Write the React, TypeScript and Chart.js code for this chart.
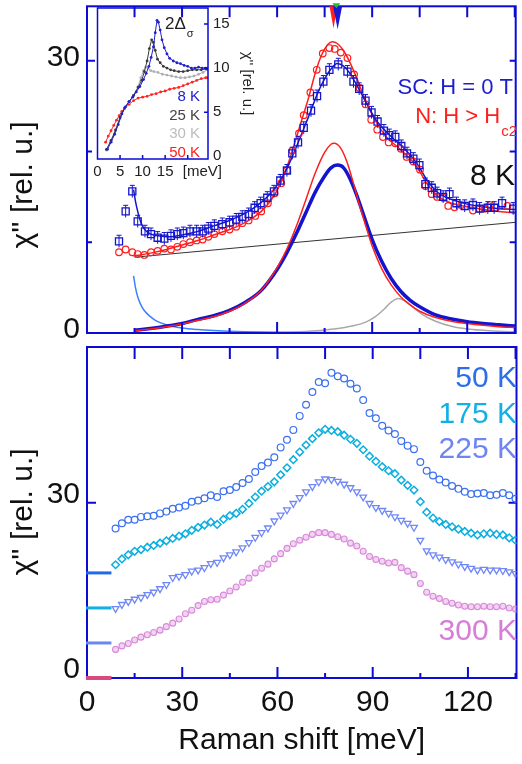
import React, { useEffect, useRef } from "react";
import { Chart, registerables } from "chart.js";
Chart.register(...registerables);

const FONT = "'Liberation Sans', Arial, Helvetica, sans-serif";
const AXIS_BLUE = "#0b0bd4";
const SC_BLUE = "#1414cc";
const N_RED = "#ff1e1e";

// ---------------- top panel (8 K) ----------------
const SC_X = [10.1, 12.2, 14.3, 16.0, 18.3, 20.2, 22.3, 24.4, 26.5, 28.5, 30.4, 32.5, 34.6, 36.5, 38.3, 40.2, 42.7, 45.0, 47.1, 49.0, 51.0, 52.9, 54.8, 56.9, 59.0, 61.0, 63.1, 64.8, 66.6, 68.4, 70.7, 72.6, 74.6, 76.5, 79.3, 82.2, 84.1, 85.9, 87.9, 89.8, 91.7, 93.7, 95.4, 97.3, 99.2, 101.0, 103.0, 104.9, 106.8, 108.8, 110.5, 112.4, 114.4, 116.6, 119.2, 121.8, 123.9, 126.5, 128.5, 131.0, 134.5];
const SC_Y = [10.1, 13.4, 15.6, 12.3, 11.2, 10.9, 10.5, 10.4, 10.7, 10.9, 11.0, 11.2, 11.2, 11.2, 11.5, 11.8, 12.0, 12.2, 12.5, 12.8, 13.1, 13.8, 14.3, 14.9, 15.6, 16.8, 17.9, 19.8, 21.0, 22.6, 24.5, 26.1, 27.7, 29.0, 29.6, 28.8, 27.7, 26.9, 25.6, 24.3, 23.3, 22.3, 21.8, 21.6, 20.6, 19.8, 19.2, 18.5, 16.4, 16.0, 15.4, 15.0, 15.3, 14.3, 14.0, 14.1, 13.7, 13.8, 13.8, 14.3, 13.7];
const SC_ERR = 0.45;

const N_X = [10.1, 12.2, 14.3, 16.0, 18.1, 20.2, 22.3, 24.4, 26.5, 28.5, 30.4, 32.5, 34.6, 36.5, 38.3, 40.2, 42.7, 45.0, 47.1, 49.0, 51.0, 53.1, 55.0, 57.1, 59.2, 61.3, 63.1, 64.8, 66.9, 68.4, 70.5, 72.5, 74.4, 76.5, 78.2, 80.1, 82.2, 84.3, 86.0, 87.9, 89.7, 91.6, 93.4, 95.2, 97.3, 99.1, 100.9, 103.0, 105.1, 106.8, 108.8, 110.5, 112.4, 114.0, 116.0, 118.1, 121.8, 123.9, 125.4, 127.2, 129.1, 132.7];
const N_Y = [8.9, 9.2, 8.9, 8.7, 8.6, 8.9, 9.05, 9.3, 9.2, 9.5, 9.8, 10.0, 10.2, 10.3, 10.6, 10.9, 11.2, 11.4, 11.7, 12.1, 12.4, 12.9, 13.4, 14.3, 15.4, 16.5, 17.9, 20.1, 22.0, 24.0, 26.5, 29.0, 30.8, 31.4, 31.3, 30.9, 30.3, 28.5, 27.0, 25.2, 23.5, 22.4, 21.6, 21.0, 20.9, 20.3, 19.4, 18.9, 18.0, 16.2, 15.3, 15.0, 14.9, 14.0, 13.85, 14.1, 13.5, 13.7, 13.7, 14.1, 13.8, 14.0];

const SC_FIT_X = [14.7, 15.3, 16, 17, 18, 19.5, 21, 23, 26, 30, 35, 40, 45, 50, 55, 58, 61, 64, 67, 70, 73, 75, 77, 79, 81, 83, 85, 87, 89, 91, 93, 95, 97, 99, 101, 103, 105, 107, 109, 111, 113, 116, 120, 125, 130, 135.3];
const SC_FIT_Y = [15.8, 14.5, 13.4, 12.2, 11.5, 11.0, 10.8, 10.7, 10.6, 10.8, 11.2, 11.8, 12.4, 13.2, 14.4, 15.4, 16.8, 18.8, 21.3, 23.9, 26.6, 28.0, 29.1, 29.7, 29.4, 28.6, 27.4, 26.1, 24.8, 23.6, 22.7, 22.0, 21.3, 20.7, 20.0, 19.2, 18.2, 17.0, 16.1, 15.4, 15.0, 14.6, 14.2, 13.9, 13.7, 13.6];

const N_FIT_X = [14.5, 17, 20, 25, 30, 35, 40, 45, 50, 55, 58, 61, 64, 67, 70, 72, 74, 76, 77.5, 79, 81, 83, 85, 87, 89, 91, 93, 95, 97, 99, 101, 103, 105, 107, 109, 111, 113, 116, 120, 125, 130, 135.3];
const N_FIT_Y = [8.5, 8.6, 8.8, 9.2, 9.7, 10.2, 10.8, 11.4, 12.2, 13.4, 14.6, 16.4, 19.2, 22.6, 26.0, 28.6, 30.6, 31.8, 32.1, 31.9, 31.1, 29.8, 28.2, 26.4, 24.8, 23.4, 22.3, 21.4, 20.8, 20.2, 19.5, 18.8, 17.8, 16.6, 15.7, 15.0, 14.6, 14.2, 13.9, 13.6, 13.4, 13.2];

const SC_PEAK_X = [15, 20, 25, 30, 35, 40, 45, 50, 55, 60, 63, 66, 69, 72, 75, 77, 79, 81, 83, 85, 87, 90, 93, 96, 99, 102, 105, 110, 115, 120, 125, 130, 135.3];
const SC_PEAK_Y = [0.3, 0.5, 0.75, 1.05, 1.5, 1.9, 2.5, 3.4, 4.7, 7.0, 8.8, 10.9, 13.2, 15.5, 17.3, 18.2, 18.5, 18.2, 17.0, 15.3, 13.3, 10.3, 7.9, 6.0, 4.6, 3.6, 2.9, 2.0, 1.55, 1.25, 1.05, 0.9, 0.76];

const N_PEAK_X = [15, 20, 25, 30, 35, 40, 45, 50, 55, 60, 63, 66, 69, 72, 75, 77, 78, 80, 82, 84, 86, 88, 90, 93, 96, 99, 102, 105, 110, 115, 120, 125, 130, 135.3];
const N_PEAK_Y = [0.25, 0.45, 0.7, 1.0, 1.4, 1.8, 2.4, 3.3, 4.7, 7.2, 9.2, 11.7, 14.6, 17.6, 19.9, 20.8, 20.9, 20.4, 18.9, 16.6, 14.1, 11.8, 9.6, 7.1, 5.3, 4.0, 3.1, 2.4, 1.7, 1.3, 1.05, 0.85, 0.7, 0.6];

const GRAY_X = [60, 70, 78, 84, 88, 91, 94, 96, 98.3, 100.5, 103, 106, 110, 115, 120, 125, 130, 135.3];
const GRAY_Y = [0.05, 0.2, 0.45, 0.8, 1.2, 1.8, 2.7, 3.4, 3.8, 3.5, 2.8, 2.0, 1.3, 0.75, 0.45, 0.3, 0.2, 0.12];

const BG_X = [15, 135.3];
const BG_Y = [8.35, 12.2];

const LB_X = [14.7, 15.3, 16, 17, 18, 20, 22, 25, 30, 35, 40, 50, 60, 80, 100, 135.3];
const LB_Y = [6.3, 5.0, 4.0, 3.1, 2.5, 1.8, 1.3, 0.9, 0.55, 0.38, 0.28, 0.15, 0.08, 0.04, 0.02, 0.01];

const GAP_MARK_X = [77.8, 79.1, 78.7]; // red, blue, green

// ---------------- inset ----------------
const I8_X = [2.2, 3, 3.8, 4.6, 5.4, 6.2, 7, 7.8, 8.6, 9.4, 10.2, 10.8, 11.4, 11.9, 12.4, 12.8, 13.2, 13.5, 13.9, 14.3, 14.8, 15.4, 16, 16.8, 17.6, 18.4, 19.2, 20, 20.8, 21.6, 22.4, 23.2, 24, 24.4];
const I8_Y = [0.8, 1.6, 2.5, 3.6, 4.8, 5.6, 6.2, 6.7, 7.3, 7.9, 8.7, 9.4, 10.2, 11.2, 12.4, 14.0, 15.4, 15.2, 14.3, 13.2, 12.3, 11.6, 11.1, 10.8, 10.6, 10.5, 10.3, 10.2, 10.0, 10.0, 10.1, 10.0, 10.0, 9.9];
const I25_X = [2, 3, 4, 5, 6, 7, 8, 9, 9.8, 10.4, 11, 11.5, 12, 12.4, 12.8, 13.3, 13.9, 14.6, 15.4, 16.2, 17, 18, 19, 20, 21, 22, 23, 24, 24.4];
const I25_Y = [0.8, 1.8, 3.0, 4.4, 5.5, 6.2, 6.9, 7.8, 8.6, 9.6, 10.8, 12.2, 13.2, 12.9, 12.0, 11.0, 10.6, 10.2, 10.0, 9.8, 9.7, 9.6, 9.6, 9.7, 9.8, 9.8, 9.8, 9.9, 9.9];
const I30_X = [2, 3, 4, 5, 6, 7, 8, 9, 9.6, 10.2, 10.7, 11.2, 11.8, 12.5, 13.4, 14.4, 15.4, 16.4, 17.4, 18.4, 19.4, 20.4, 21.4, 22.4, 23.4, 24.4];
const I30_Y = [0.7, 1.7, 2.9, 4.3, 5.4, 6.1, 6.9, 7.9, 8.9, 9.7, 10.1, 10.0, 9.7, 9.6, 9.5, 9.3, 9.2, 9.1, 9.0, 8.9, 8.9, 9.0, 9.1, 9.3, 9.5, 9.8];
const I50_X = [1.8, 2.4, 3, 3.6, 4.2, 4.8, 5.4, 6, 7, 8, 9, 10, 11, 12, 13, 14, 15, 16, 17, 18, 19, 20, 21, 22, 23, 24, 24.4];
const I50_Y = [1.6, 2.3, 2.9, 3.5, 4.1, 4.6, 5.1, 5.4, 5.9, 6.3, 6.6, 6.7, 6.8, 7.0, 7.1, 7.3, 7.4, 7.6, 7.7, 7.8, 8.0, 8.2, 8.4, 8.6, 8.8, 8.9, 8.9];
const INSET_X_TICKS = [0, 5, 10, 15];
const INSET_Y_TICKS = [0, 5, 10, 15];

// ---------------- bottom panel ----------------
const B_X = [9, 11, 13, 15, 17, 19, 21, 23, 25, 27, 29, 31, 33, 35, 37, 39, 41, 43, 45, 47, 49, 51, 53, 55, 57, 59, 61, 63, 65, 67, 69, 71, 73, 75, 77, 79, 81, 83, 85, 87, 89, 91, 93, 95, 97, 99, 101, 103, 105, 107, 109, 111, 113, 115, 117, 119, 121, 123, 125, 127, 129, 131, 133, 135];
const T50 = [25.6, 26.5, 27.1, 27.1, 27.6, 27.7, 27.8, 28.2, 28.5, 29.0, 29.2, 29.5, 30.2, 30.4, 30.8, 31.3, 31.0, 32.0, 32.2, 32.7, 33.4, 34.1, 35.3, 36.3, 36.9, 37.8, 39.5, 40.8, 42.5, 44.9, 46.8, 49.0, 50.7, 50.5, 52.3, 51.7, 51.3, 50.4, 49.6, 47.6, 45.4, 44.5, 43.2, 42.4, 41.8, 40.6, 39.8, 39.2, 37.0, 35.5, 34.7, 34.0, 33.5, 32.9, 32.4, 31.9, 31.5, 31.6, 31.7, 31.3, 31.4, 31.7, 31.3, 30.7];
const T175 = [19.4, 20.4, 21.1, 21.7, 22.0, 22.4, 22.7, 23.1, 23.5, 23.9, 24.3, 24.7, 25.3, 25.8, 26.2, 26.7, 26.3, 27.2, 27.8, 28.2, 28.9, 29.9, 31.0, 32.0, 32.8, 33.6, 34.8, 36.0, 37.4, 38.7, 39.9, 41.0, 42.0, 42.6, 42.4, 42.2, 41.6, 40.9, 40.2, 39.1, 38.0, 37.1, 36.2, 35.5, 35.0, 33.9, 33.0, 32.2, 30.2, 28.4, 27.4, 26.8, 26.3, 25.9, 25.5, 25.1, 24.8, 24.5, 24.7, 24.8, 24.6, 24.5, 24.0, 23.6];
const T225 = [11.9, 12.6, 13.1, 13.5, 13.8, 14.3, 14.7, 15.3, 16.0, 17.2, 17.4, 17.7, 18.3, 18.5, 18.9, 19.6, 19.8, 20.6, 21.1, 21.6, 22.3, 23.2, 24.1, 24.9, 25.7, 26.9, 27.9, 28.8, 29.9, 30.9, 31.9, 32.8, 33.6, 34.1, 34.0, 33.7, 33.2, 32.6, 31.9, 31.0, 29.9, 29.2, 28.7, 28.2, 27.6, 27.0, 26.5, 25.8, 23.6, 21.8, 21.1, 20.7, 20.3, 19.9, 19.5, 19.1, 18.8, 18.5, 18.6, 18.5, 18.5, 18.4, 18.2, 17.9];
const T300 = [4.9, 5.5, 5.9, 6.5, 7.0, 7.4, 7.8, 8.2, 8.8, 9.4, 10.1, 11.0, 11.6, 12.4, 13.1, 13.4, 13.5, 14.2, 14.9, 15.6, 16.4, 17.1, 18.0, 18.8, 19.5, 20.4, 21.3, 22.2, 23.0, 23.6, 24.1, 24.6, 24.9, 24.9, 24.6, 24.2, 23.8, 23.1, 22.6, 21.7, 20.8, 20.3, 20.0, 19.7, 19.8, 18.9, 18.3, 17.7, 16.2, 14.7, 14.0, 13.6, 13.1, 12.8, 12.5, 12.3, 12.2, 12.2, 12.3, 12.2, 12.2, 12.3, 12.0, 11.8];
const OFFSETS = [18, 12, 6, 0];
const OFFSET_MARK_X = [-0.3, 7.7];
const TEMP_LABELS = ["50 K", "175 K", "225 K", "300 K"];

const X_TICK_VALUES = [15, 30, 45, 60, 75, 90, 105, 120, 135];
const X_LABEL_VALUES = [0, 30, 60, 90, 120];
const TOP_Y_TICKS = [0, 10, 20, 30];
const BOT_Y_TICKS = [0, 30];

const pts = (xs: number[], ys: number[]) => xs.map((x, i) => ({ x, y: ys[i] }));

function framePlugin(id: string, xt: number[][], yt: number[][], lw: number, under = false) {
  const draw = (chart: any) => {
    const { ctx, chartArea: a, scales } = chart;
    ctx.save();
    ctx.strokeStyle = AXIS_BLUE;
    ctx.lineWidth = lw;
    ctx.strokeRect(a.left, a.top, a.right - a.left, a.bottom - a.top);
    ctx.beginPath();
    xt.forEach(([v, b, t]) => {
      const p = scales.x.getPixelForValue(v);
      if (b) { ctx.moveTo(p, a.bottom); ctx.lineTo(p, a.bottom - b); }
      if (t) { ctx.moveTo(p, a.top); ctx.lineTo(p, a.top + t); }
    });
    yt.forEach(([v, l, r]) => {
      const p = scales.y.getPixelForValue(v);
      if (l) { ctx.moveTo(a.left, p); ctx.lineTo(a.left + l, p); }
      if (r) { ctx.moveTo(a.right, p); ctx.lineTo(a.right - r, p); }
    });
    ctx.stroke();
    ctx.restore();
  };
  return under ? { id, beforeDatasetsDraw: draw } : { id, afterDatasetsDraw: draw };
}

function yTitle(ctx: any, x: number, y: number) {
  ctx.save();
  ctx.translate(x, y);
  ctx.rotate(-Math.PI / 2);
  ctx.font = `30px ${FONT}`;
  ctx.fillStyle = "#111";
  ctx.textAlign = "center";
  ctx.textBaseline = "middle";
  ctx.fillText("\u03c7'' [rel. u.]", 0, 0);
  ctx.restore();
}

const lineDs = (xs: number[], ys: number[], color: string, width: number) => ({
  data: pts(xs, ys),
  showLine: true,
  pointRadius: 0,
  borderColor: color,
  borderWidth: width,
  cubicInterpolationMode: "monotone",
  fill: false,
});

const baseY = (min: number, max: number, ticks: number[], labels: number[], labelOffset: number) => ({
  min,
  max,
  afterFit: (s: any) => { s.width = 87; s.paddingTop = 0; s.paddingBottom = 0; },
  afterBuildTicks: (s: any) => { s.ticks = ticks.map((v) => ({ value: v })); },
  ticks: {
    callback: (v: any) => (labels.includes(v) ? String(v) : ""),
    font: { family: FONT, size: 30 },
    color: "#111",
    padding: 7,
    labelOffset,
  },
  grid: { display: false, drawTicks: false },
  border: { display: false },
});

export default function App() {
  const topRef = useRef<HTMLCanvasElement>(null);
  const insetRef = useRef<HTMLCanvasElement>(null);
  const botRef = useRef<HTMLCanvasElement>(null);

  useEffect(() => {
    const xt = X_TICK_VALUES.map((v) => [v, v % 30 === 0 ? 11 : 5, 11]);

    const topPlugins = [
      framePlugin("frameTop", xt, TOP_Y_TICKS.filter((v) => v > 0).map((v) => [v, v === 30 ? 8 : 5, 6]), 2),
      {
        id: "topExtras",
        afterDatasetsDraw(chart: any) {
          const { ctx, chartArea: a, scales } = chart;
          ctx.save();
          // error bars
          ctx.strokeStyle = SC_BLUE;
          ctx.lineWidth = 1;
          ctx.beginPath();
          SC_X.forEach((x, i) => {
            const px = scales.x.getPixelForValue(x);
            const y1 = scales.y.getPixelForValue(SC_Y[i] + SC_ERR);
            const y2 = scales.y.getPixelForValue(SC_Y[i] - SC_ERR);
            ctx.moveTo(px, y1 - 2); ctx.lineTo(px, y2 + 2);
            ctx.moveTo(px - 2.5, y1 - 2); ctx.lineTo(px + 2.5, y1 - 2);
          });
          ctx.stroke();
          // gap markers
          const tri = (v: number, color: string, w: number, y0: number, h: number) => {
            const p = scales.x.getPixelForValue(v);
            ctx.fillStyle = color;
            ctx.beginPath();
            ctx.moveTo(p - w, y0);
            ctx.lineTo(p + w, y0);
            ctx.lineTo(p, y0 + h);
            ctx.closePath();
            ctx.fill();
          };
          tri(GAP_MARK_X[0], "#ff2020", 4, a.top, 22);
          tri(GAP_MARK_X[1], "#1a1ad0", 4.5, a.top, 23);
          tri(GAP_MARK_X[2], "#20c020", 4, a.top - 3, 5);
          ctx.restore();
        },
        afterDraw(chart: any) {
          const { ctx } = chart;
          ctx.save();
          ctx.textBaseline = "middle";
          ctx.textAlign = "right";
          ctx.font = `22px ${FONT}`;
          ctx.fillStyle = "#1c1cd0";
          ctx.fillText("SC: H = 0 T", 513, 88);
          ctx.font = `15px ${FONT}`;
          ctx.fillStyle = N_RED;
          const w = ctx.measureText("c2").width;
          ctx.fillText("c2", 517, 132);
          ctx.font = `22px ${FONT}`;
          ctx.fillText("N: H > H", 517 - w - 1, 117);
          ctx.font = `30px ${FONT}`;
          ctx.fillStyle = "#111";
          ctx.fillText("8 K", 515, 177);
          yTitle(ctx, 24, 185);
          ctx.restore();
        },
      },
    ];

    const top = new Chart(topRef.current as any, {
      type: "scatter",
      data: {
        datasets: [
          {
            data: pts(SC_X, SC_Y),
            pointStyle: "rect",
            pointRadius: 5,
            pointBorderWidth: 1.3,
            borderColor: SC_BLUE,
            backgroundColor: "rgba(0,0,0,0)",
            showLine: false,
          },
          {
            data: pts(N_X, N_Y),
            pointStyle: "circle",
            pointRadius: 3.3,
            pointBorderWidth: 1.2,
            borderColor: N_RED,
            backgroundColor: "rgba(0,0,0,0)",
            showLine: false,
          },
          lineDs(SC_FIT_X, SC_FIT_Y, SC_BLUE, 1.5),
          lineDs(N_FIT_X, N_FIT_Y, N_RED, 1.5),
          lineDs(N_PEAK_X, N_PEAK_Y, N_RED, 1.5),
          lineDs(SC_PEAK_X, SC_PEAK_Y, SC_BLUE, 3.5),
          lineDs(GRAY_X, GRAY_Y, "#a8a8a8", 1.5),
          lineDs(BG_X, BG_Y, "#333333", 1),
          lineDs(LB_X, LB_Y, "#3a82ff", 1.5),
        ] as any,
      },
      options: {
        animation: false,
        responsive: false,
        devicePixelRatio: 1,
        layout: { padding: { left: 0, right: 2, top: 3, bottom: 12 } },
        plugins: { legend: { display: false }, tooltip: { enabled: false } },
        scales: {
          x: { type: "linear", min: 0, max: 135.3, display: false },
          y: baseY(0, 36, TOP_Y_TICKS, [0, 30], -3) as any,
        },
      } as any,
      plugins: topPlugins as any,
    });

    const insetTicksX = [5, 10, 15, 20].map((v) => [v, 4, 0]);
    const insetTicksY = [5, 10, 15].map((v) => [v, 0, 4]);
    const insetLine = (xs: number[], ys: number[], color: string) => ({
      data: pts(xs, ys),
      showLine: true,
      borderColor: color,
      backgroundColor: color,
      borderWidth: 1,
      pointRadius: 1.4,
      pointBorderWidth: 0,
      tension: 0,
    });
    const inset = new Chart(insetRef.current as any, {
      type: "scatter",
      data: {
        datasets: [
          insetLine(I8_X, I8_Y, "#2020d0"),
          insetLine(I25_X, I25_Y, "#3a3a3a"),
          insetLine(I30_X, I30_Y, "#b0b0b0"),
          insetLine(I50_X, I50_Y, "#ff2424"),
        ] as any,
      },
      options: {
        animation: false,
        responsive: false,
        devicePixelRatio: 1,
        layout: { padding: { left: 7.5, top: 8, right: 0, bottom: 0 } },
        plugins: { legend: { display: false }, tooltip: { enabled: false } },
        scales: {
          x: {
            type: "linear",
            min: 0,
            max: 24.5,
            afterFit: (s: any) => { s.height = 26; s.paddingLeft = 0; s.paddingRight = 0; },
            afterBuildTicks: (s: any) => { s.ticks = INSET_X_TICKS.map((v) => ({ value: v })); },
            ticks: { font: { family: FONT, size: 15 }, color: "#222", padding: 3.5, maxRotation: 0, autoSkip: false },
            grid: { display: false, drawTicks: false },
            border: { display: false },
          },
          y: {
            position: "right",
            min: -0.3,
            max: 16.8,
            afterFit: (s: any) => { s.width = 52; s.paddingTop = 0; s.paddingBottom = 0; },
            afterBuildTicks: (s: any) => { s.ticks = INSET_Y_TICKS.map((v) => ({ value: v })); },
            ticks: { font: { family: FONT, size: 15 }, color: "#222", padding: 5 },
            title: { display: true, text: "\u03c7'' [rel. u.]", font: { family: FONT, size: 15 }, color: "#222", padding: { top: 4, bottom: 0 } },
            grid: { display: false, drawTicks: false },
            border: { display: false },
          },
        },
      } as any,
      plugins: [
        framePlugin("frameInset", insetTicksX, insetTicksY, 1.5),
        {
          id: "insetText",
          afterDraw(chart: any) {
            const { ctx, chartArea: a, scales } = chart;
            ctx.save();
            ctx.textBaseline = "middle";
            ctx.font = `15px ${FONT}`;
            ctx.fillStyle = "#222";
            ctx.textAlign = "left";
            ctx.fillText("[meV]", scales.x.getPixelForValue(18.9), a.bottom + 13);
            ctx.font = `17px ${FONT}`;
            ctx.fillText("2\u0394", 75, 24.5);
            const w = ctx.measureText("2\u0394").width;
            ctx.font = `11px ${FONT}`;
            ctx.fillText("\u03c3", 75 + w + 1, 34);
            ctx.textAlign = "right";
            ctx.font = `15px ${FONT}`;
            const lab: [string, string, number][] = [
              ["8 K", "#2020d0", 97],
              ["25 K", "#444444", 115.5],
              ["30 K", "#bdbdbd", 134],
              ["50 K", "#ff2020", 152.5],
            ];
            lab.forEach(([t, c, y]) => { ctx.fillStyle = c; ctx.fillText(t, a.right - 8, y); });
            ctx.restore();
          },
        },
      ] as any,
    });

    const offColors = ["#1f6ae8", "#12aee6", "#6688f2", "#d84a80"];
    const labColors = ["#2d6ee8", "#12b0e4", "#6f86f0", "#d67ed6"];
    const botPlugins = [
      framePlugin("frameBot", xt.map(([v, b]) => [v, b, 12]), [[30, 9, 8]], 2, true),
      {
        id: "botText",
        afterDraw(chart: any) {
          const { ctx } = chart;
          ctx.save();
          ctx.textBaseline = "middle";
          ctx.textAlign = "right";
          ctx.font = `30px ${FONT}`;
          const ys = [39, 75, 110, 292];
          TEMP_LABELS.forEach((t, i) => { ctx.fillStyle = labColors[i]; ctx.fillText(t, 517, ys[i]); });
          yTitle(ctx, 24, 172);
          ctx.restore();
        },
      },
    ];

    const bot = new Chart(botRef.current as any, {
      type: "scatter",
      data: {
        datasets: [
          ...OFFSETS.map((o, i) => ({
            data: pts(OFFSET_MARK_X, [o, o]),
            showLine: true,
            pointRadius: 0,
            borderColor: offColors[i],
            borderWidth: i === 3 ? 4 : 3,
            clip: false,
          })),
          {
            data: pts(B_X, T50),
            pointStyle: "circle",
            pointRadius: 3.4,
            pointBorderWidth: 1.2,
            borderColor: "#3a70f0",
            backgroundColor: "rgba(0,0,0,0)",
          },
          {
            data: pts(B_X, T175),
            pointStyle: "rectRot",
            pointRadius: 3.8,
            pointBorderWidth: 1.5,
            borderColor: "#0aaee0",
            backgroundColor: "rgba(0,0,0,0)",
          },
          {
            data: pts(B_X, T225),
            pointStyle: "triangle",
            pointRotation: 180,
            pointRadius: 3.9,
            pointBorderWidth: 1.3,
            borderColor: "#7088f5",
            backgroundColor: "rgba(0,0,0,0)",
          },
          {
            data: pts(B_X, T300),
            pointStyle: "circle",
            pointRadius: 3,
            pointBorderWidth: 1.1,
            borderColor: "#d88ad8",
            backgroundColor: "rgba(228,170,228,0.5)",
          },
        ] as any,
      },
      options: {
        animation: false,
        responsive: false,
        devicePixelRatio: 1,
        layout: { padding: { left: 0, right: 2, top: 7, bottom: 0 } },
        plugins: { legend: { display: false }, tooltip: { enabled: false } },
        scales: {
          x: {
            type: "linear",
            min: 0,
            max: 135.3,
            afterFit: (s: any) => { s.height = 86; s.paddingLeft = 0; s.paddingRight = 0; },
            afterBuildTicks: (s: any) => { s.ticks = X_LABEL_VALUES.map((v) => ({ value: v })); },
            ticks: { font: { family: FONT, size: 30 }, color: "#111", padding: 7, maxRotation: 0, autoSkip: false },
            title: { display: true, text: "Raman shift [meV]", font: { family: FONT, size: 30 }, color: "#111", padding: { top: 0, bottom: 5 } },
            grid: { display: false, drawTicks: false },
            border: { display: false },
          },
          y: baseY(0, 56.7, BOT_Y_TICKS, [0, 30], -8) as any,
        },
      } as any,
      plugins: botPlugins as any,
    });

    return () => {
      top.destroy();
      inset.destroy();
      bot.destroy();
    };
  }, []);

  return (
    <div style={{ position: "absolute", left: 0, top: 0, width: 522, height: 764, background: "#fff" }}>
      <canvas ref={topRef} width={522} height={345} style={{ position: "absolute", left: 0, top: 0 }} />
      <canvas ref={botRef} width={522} height={424} style={{ position: "absolute", left: 0, top: 340 }} />
      <canvas ref={insetRef} width={170} height={185} style={{ position: "absolute", left: 90, top: 0 }} />
    </div>
  );
}
